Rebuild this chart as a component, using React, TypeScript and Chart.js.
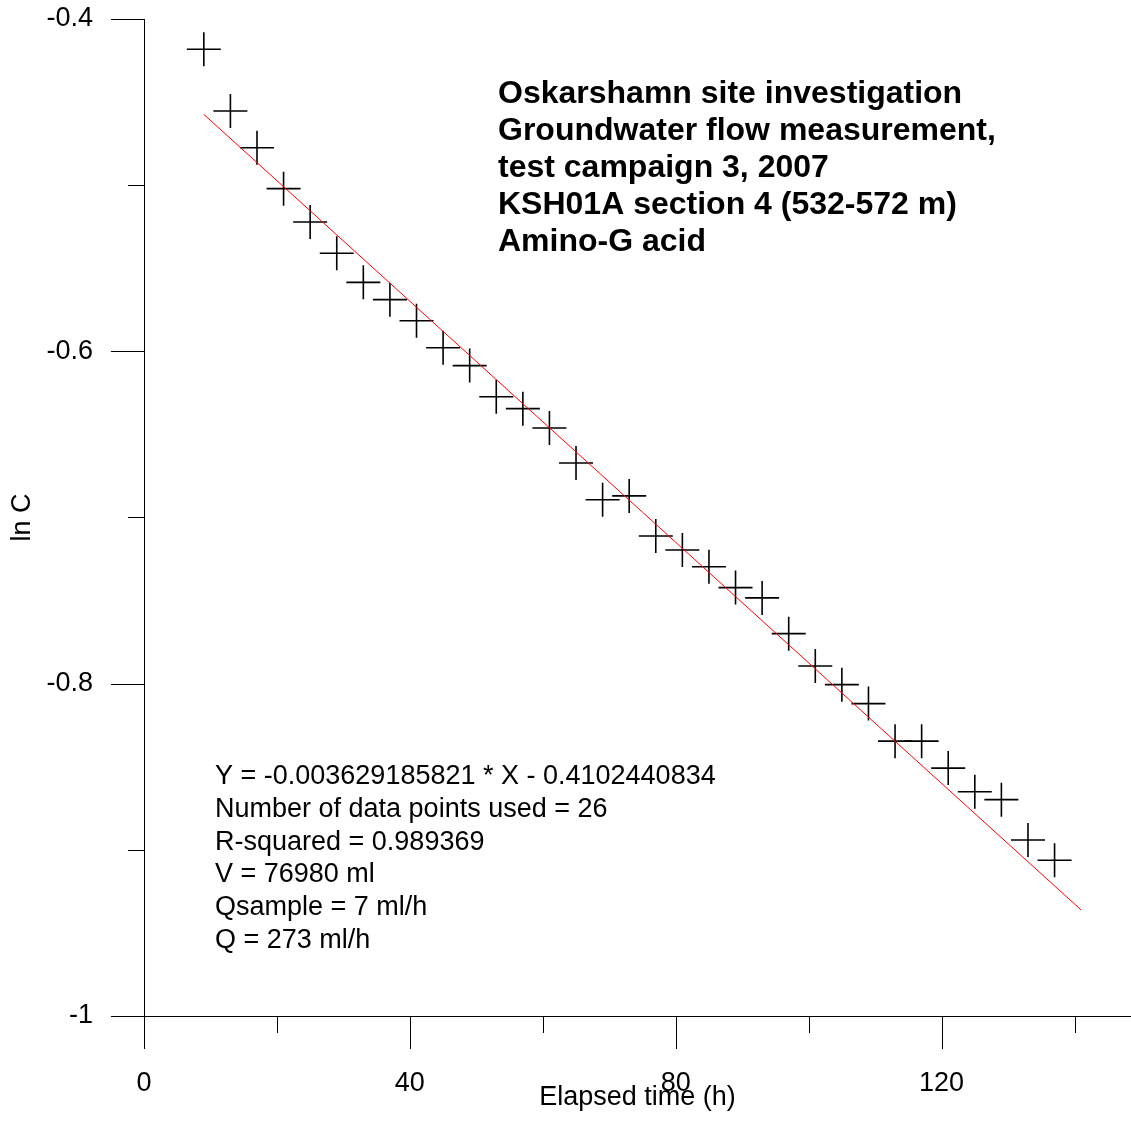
import React, { useEffect, useRef } from 'react';
import { Chart, registerables } from 'chart.js';

Chart.register(...registerables);

// ---- data ----
const timeH = [9, 13, 17, 21, 25, 29, 33, 37, 41, 45, 49, 53, 57, 61, 65, 69, 73, 77, 81, 85, 89, 93, 97, 101, 105, 109, 113, 117, 121, 125, 129, 133, 137];
const lnC = [
  -0.4182, -0.4554, -0.4775, -0.5021, -0.5222, -0.5410, -0.5585, -0.5689, -0.5816, -0.5978,
  -0.6086, -0.6273, -0.6345, -0.6461, -0.6672, -0.6893, -0.6870, -0.7111, -0.7196, -0.7296,
  -0.7422, -0.7484, -0.7699, -0.7894, -0.8006, -0.8120, -0.8346, -0.8346, -0.8508, -0.8650,
  -0.8698, -0.8941, -0.9063,
];
const fitX = [9, 141];
const fitY = [-0.4574, -0.9362];

const xMin = 0;
const xMax = 148.5;
const yMin = -1;
const yMax = -0.4;
const xMajorTicks = [0, 40, 80, 120];
const xMinorTicks = [20, 60, 100, 140];
const yMajorTicks = [-1, -0.8, -0.6, -0.4];
const yMajorLabels = ['-1', '-0.8', '-0.6', '-0.4'];
const yMinorTicks = [-0.9, -0.7, -0.5];

const xTitle = 'Elapsed time (h)';
const yTitle = 'ln C';
const titleLines = [
  'Oskarshamn site investigation',
  'Groundwater flow measurement,',
  'test campaign 3, 2007',
  'KSH01A section 4 (532-572 m)',
  'Amino-G acid',
];
const statLines = [
  'Y = -0.003629185821 * X - 0.4102440834',
  'Number of data points used = 26',
  'R-squared = 0.989369',
  'V = 76980 ml',
  'Qsample = 7 ml/h',
  'Q = 273 ml/h',
];

const FONT = '"Liberation Sans", Arial, Helvetica, sans-serif';

const axisTicksPlugin = {
  id: 'axisTicks',
  afterDraw(chart: any) {
    const { ctx, chartArea: a, scales } = chart;
    const x = scales.x;
    const y = scales.y;
    ctx.save();
    ctx.strokeStyle = '#000';
    ctx.lineWidth = 1;
    ctx.beginPath();
    const al = (p: number) => Math.round(p) + 0.5;
    xMajorTicks.forEach((v) => {
      const px = al(x.getPixelForValue(v));
      ctx.moveTo(px, a.bottom);
      ctx.lineTo(px, a.bottom + 33);
    });
    xMinorTicks.forEach((v) => {
      const px = al(x.getPixelForValue(v));
      ctx.moveTo(px, a.bottom);
      ctx.lineTo(px, a.bottom + 17);
    });
    yMajorTicks.forEach((v) => {
      const py = al(y.getPixelForValue(v));
      ctx.moveTo(a.left - 33, py);
      ctx.lineTo(a.left, py);
    });
    yMinorTicks.forEach((v) => {
      const py = al(y.getPixelForValue(v));
      ctx.moveTo(a.left - 16, py);
      ctx.lineTo(a.left, py);
    });
    ctx.stroke();
    ctx.restore();
  },
};

const textPlugin = {
  id: 'textBlocks',
  afterDraw(chart: any) {
    const { ctx } = chart;
    ctx.save();
    ctx.fillStyle = '#000';
    ctx.textAlign = 'left';
    ctx.textBaseline = 'alphabetic';
    ctx.font = `bold 32px ${FONT}`;
    titleLines.forEach((t, i) => ctx.fillText(t, 498, 103 + i * 37));
    ctx.font = `27px ${FONT}`;
    statLines.forEach((t, i) => ctx.fillText(t, 215, 784 + i * 32.8));
    ctx.restore();
  },
};

export default function App() {
  const canvasRef = useRef<HTMLCanvasElement | null>(null);

  useEffect(() => {
    document.body.style.margin = '0';
    const canvas = canvasRef.current;
    if (!canvas) return;
    const chart = new Chart(canvas, {
      type: 'scatter',
      data: {
        datasets: [
          {
            type: 'line',
            data: fitX.map((x, i) => ({ x, y: fitY[i] })),
            borderColor: '#ff0000',
            borderWidth: 1,
            pointRadius: 0,
            fill: false,
            tension: 0,
            clip: false,
          } as any,
          {
            type: 'scatter',
            data: timeH.map((x, i) => ({ x, y: lnC[i] })),
            pointStyle: 'cross',
            pointRadius: 17,
            pointBorderColor: '#000',
            pointBorderWidth: 1.6,
            borderColor: '#000',
            backgroundColor: '#000',
            clip: false,
          } as any,
        ],
      },
      plugins: [axisTicksPlugin, textPlugin],
      options: {
        responsive: false,
        animation: false,
        events: [],
        layout: { autoPadding: false, padding: { top: 19, right: 0, bottom: 0, left: 0 } },
        plugins: {
          legend: { display: false },
          tooltip: { enabled: false },
          title: { display: false },
        },
        scales: {
          x: {
            type: 'linear',
            position: 'bottom',
            min: xMin,
            max: xMax,
            grid: { display: false, drawTicks: false },
            border: { display: true, color: '#000', width: 1 },
            afterBuildTicks: (scale: any) => {
              scale.ticks = xMajorTicks.map((v) => ({ value: v }));
            },
            afterFit: (scale: any) => {
              scale.height = 115;
              scale.paddingLeft = 0;
              scale.paddingRight = 0;
            },
            ticks: {
              autoSkip: false,
              maxRotation: 0,
              padding: 51,
              color: '#000',
              font: { family: FONT, size: 27 },
              callback: (v: any) => String(v),
            },
            title: {
              display: true,
              text: xTitle,
              color: '#000',
              font: { family: FONT, size: 27 },
              padding: { top: 0, bottom: 17 },
            },
          },
          y: {
            type: 'linear',
            position: 'left',
            min: yMin,
            max: yMax,
            grid: { display: false, drawTicks: false },
            border: { display: true, color: '#000', width: 1 },
            afterBuildTicks: (scale: any) => {
              scale.ticks = yMajorTicks.map((v) => ({ value: v }));
            },
            afterFit: (scale: any) => {
              scale.width = 144;
              scale.paddingTop = 0;
              scale.paddingBottom = 0;
            },
            ticks: {
              autoSkip: false,
              padding: 51,
              color: '#000',
              font: { family: FONT, size: 27 },
              callback: (_v: any, i: number) => yMajorLabels[i],
            },
            title: {
              display: true,
              text: yTitle,
              color: '#000',
              font: { family: FONT, size: 27 },
              padding: { top: 6, bottom: 0 },
            },
          },
        },
      } as any,
    });
    return () => chart.destroy();
  }, []);

  return (
    <div style={{ width: 1131, height: 1131, background: '#fff' }}>
      <canvas ref={canvasRef} width={1131} height={1131} style={{ display: 'block' }} />
    </div>
  );
}
